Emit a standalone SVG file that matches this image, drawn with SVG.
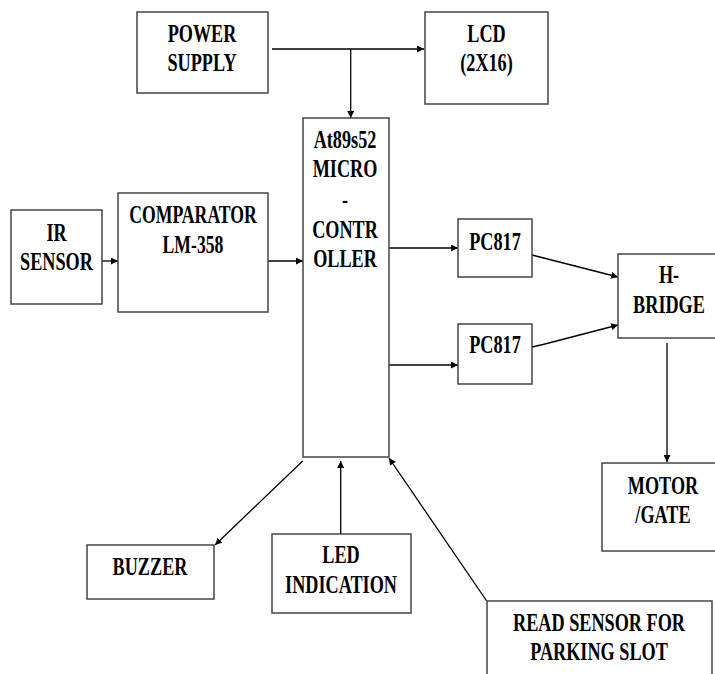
<svg xmlns="http://www.w3.org/2000/svg" width="715" height="674" viewBox="0 0 715 674">
<style>
.box{fill:#fff;stroke:#444;stroke-width:1.5}
.ln{fill:none;stroke:#000;stroke-width:1.3}
</style>
<defs>
<marker id="ah" viewBox="0 0 10 10" refX="10" refY="5" markerWidth="7" markerHeight="7" markerUnits="userSpaceOnUse" orient="auto">
<path d="M0,0 L10,5 L0,10 z" fill="#000"/>
</marker>
</defs>
<rect width="715" height="674" fill="#fff"/>
<g id="connectors">
<path class="ln" d="M272,49 H424" marker-end="url(#ah)"/>
<path class="ln" d="M350.7,49 V118" marker-end="url(#ah)"/>
<path class="ln" d="M102,261 H118" marker-end="url(#ah)"/>
<path class="ln" d="M268,261 H303" marker-end="url(#ah)"/>
<path class="ln" d="M389,248 H458" marker-end="url(#ah)"/>
<path class="ln" d="M389,365 H458" marker-end="url(#ah)"/>
<path class="ln" d="M532,255 L618,277" marker-end="url(#ah)"/>
<path class="ln" d="M532,347 L543,344.5 L618,325" marker-end="url(#ah)"/>
<path class="ln" d="M667,343 V462" marker-end="url(#ah)"/>
<path class="ln" d="M302.7,461 L215,545" marker-end="url(#ah)"/>
<path class="ln" d="M340.7,534 V461" marker-end="url(#ah)"/>
<path class="ln" d="M486.7,601 L389,458" marker-end="url(#ah)"/>
</g>
<g font-family="'Liberation Serif', 'Times New Roman', 'DejaVu Serif', serif" font-weight="bold" font-size="26" text-anchor="middle" fill="#000">
<g id="power">
<rect class="box" x="137" y="12" width="131" height="81"/>
<g transform="translate(202,0) scale(0.7,1)"><text x="0" y="42">POWER</text><text x="0" y="71">SUPPLY</text></g>
</g>
<g id="lcd">
<rect class="box" x="425" y="12" width="123" height="92"/>
<g transform="translate(486.5,0) scale(0.7,1)"><text x="0" y="42">LCD</text><text x="0" y="71">(2X16)</text></g>
</g>
<g id="micro">
<rect class="box" x="303" y="118" width="86" height="339"/>
<g transform="translate(345,0) scale(0.7,1)"><text x="0" y="148">At89s52</text><text x="0" y="177">MICRO</text><text x="0" y="208">-</text><text x="0" y="238">CONTR</text><text x="0" y="267">OLLER</text></g>
</g>
<g id="ir">
<rect class="box" x="11" y="210" width="91" height="94"/>
<g transform="translate(56.5,0) scale(0.7,1)"><text x="0" y="241">IR</text><text x="0" y="270">SENSOR</text></g>
</g>
<g id="comparator">
<rect class="box" x="118" y="193" width="150" height="119"/>
<g transform="translate(193,0) scale(0.68,1)"><text x="0" y="223">COMPARATOR</text><text x="0" y="253">LM-358</text></g>
</g>
<g id="pc817a">
<rect class="box" x="458" y="219" width="74" height="58"/>
<g transform="translate(495,0) scale(0.7,1)"><text x="0" y="250">PC817</text></g>
</g>
<g id="pc817b">
<rect class="box" x="458" y="324" width="74" height="60"/>
<g transform="translate(495,0) scale(0.7,1)"><text x="0" y="353">PC817</text></g>
</g>
<g id="hbridge">
<rect class="box" x="618" y="254" width="100" height="84"/>
<g transform="translate(669,0) scale(0.7,1)"><text x="0" y="283">H-</text><text x="0" y="313">BRIDGE</text></g>
</g>
<g id="motor">
<rect class="box" x="602" y="463" width="116" height="88"/>
<g transform="translate(663,0) scale(0.7,1)"><text x="0" y="494">MOTOR</text><text x="0" y="523">/GATE</text></g>
</g>
<g id="buzzer">
<rect class="box" x="87" y="545" width="127" height="54"/>
<g transform="translate(150,0) scale(0.7,1)"><text x="0" y="575">BUZZER</text></g>
</g>
<g id="led">
<rect class="box" x="272" y="534" width="139" height="79"/>
<g transform="translate(341,0) scale(0.7,1)"><text x="0" y="563">LED</text><text x="0" y="593">INDICATION</text></g>
</g>
<g id="readsensor">
<rect class="box" x="487" y="601" width="225" height="80"/>
<g transform="translate(599,0) scale(0.7,1)"><text x="0" y="631">READ SENSOR FOR</text><text x="0" y="660">PARKING SLOT</text></g>
</g>
</g>
</svg>
